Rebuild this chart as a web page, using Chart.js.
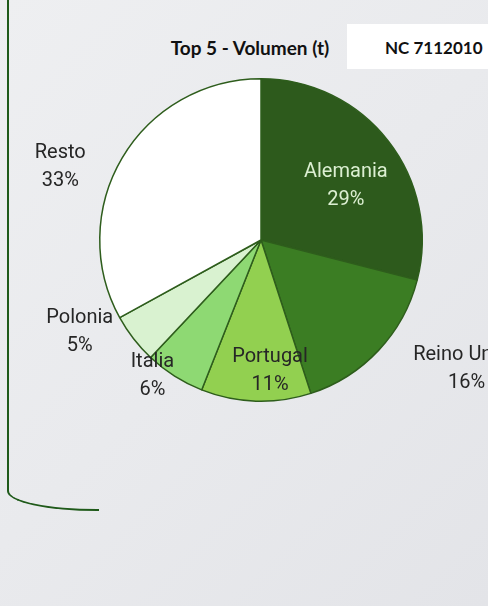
<!DOCTYPE html>
<html>

<head>
    <meta charset="UTF-8">
    <title>Top 5 - Volumen (t)</title>
    <script src="https://cdn.jsdelivr.net/npm/chart.js"></script>
    <style>
        html, body {
            margin: 0;
            padding: 0;
        }

        body {
            width: 488px;
            height: 606px;
            overflow: hidden;
            position: relative;
            background: linear-gradient(135deg, #eeeff1 0%, #e9eaed 50%, #e3e4e8 100%);
            font-family: "Lato", sans-serif;
        }

        .bracket {
            position: absolute;
            left: 7px;
            top: -5px;
            width: 92px;
            height: 516px;
            border-left: 2px solid #1f5a1a;
            border-bottom: 2px solid #1f5a1a;
            border-bottom-left-radius: 90px 20px;
            box-sizing: border-box;
        }

        .title {
            position: absolute;
            left: 130px;
            width: 240px;
            top: 36px;
            text-align: center;
            font-weight: 700;
            font-size: 19px;
            color: #111;
        }

        .code {
            position: absolute;
            left: 347px;
            top: 24px;
            width: 150px;
            height: 45px;
            background: #fff;
            font-weight: 700;
            font-size: 17px;
            color: #111;
            line-height: 47px;
            padding-left: 38px;
            box-sizing: border-box;
        }

        #chart {
            position: absolute;
            left: 0;
            top: 0;
        }
    </style>
</head>

<body>
    <div class="bracket"></div>
    <div class="title">Top 5 - Volumen (t)</div>
    <div class="code">NC 7112010</div>
    <canvas id="chart" width="488" height="606"></canvas>

    <script>
        // datos del grafico
        const paises = ["Alemania", "Reino Unido", "Portugal", "Italia", "Polonia", "Resto"];
        const porcentajes = [29, 16, 11, 6, 5, 33];
        const colores = ["#2d5a1c", "#3b7d23", "#92d050", "#8ed973", "#d9f2d0", "#ffffff"];

        // posicion de etiquetas: [angulo en grados (0 = derecha), radio relativo]
        const posEtiquetas = [[-33.4, 0.63], [31.8, 1.50], [86, 0.80], [129, 1.07], [153.6, 1.255], [200.6, 1.33]];
        const colorEtiqueta = ["#dcefd2", "#262626", "#262626", "#262626", "#262626", "#262626"];

        const etiquetas = {
            id: 'etiquetas',
            afterDatasetsDraw(chart) {
                const ctx = chart.ctx;
                const arc = chart.getDatasetMeta(0).data[0];
                const cx = arc.x, cy = arc.y, r = arc.outerRadius;
                ctx.save();
                ctx.font = '20px Roboto, sans-serif';
                ctx.textAlign = 'center';
                ctx.textBaseline = 'middle';
                paises.forEach(function (p, i) {
                    const a = posEtiquetas[i][0] * Math.PI / 180;
                    const x = cx + Math.cos(a) * r * posEtiquetas[i][1];
                    const y = cy + Math.sin(a) * r * posEtiquetas[i][1] + 2;
                    ctx.fillStyle = colorEtiqueta[i];
                    ctx.fillText(p, x, y - 14);
                    ctx.fillText(porcentajes[i] + '%', x, y + 14);
                });
                ctx.restore();
            }
        };

        new Chart(document.getElementById('chart'), {
            type: 'pie',
            data: {
                labels: paises,
                datasets: [{
                    data: porcentajes,
                    backgroundColor: colores,
                    borderColor: '#2e5d1c',
                    borderWidth: 1.5
                }]
            },
            options: {
                responsive: false,
                animation: false,
                layout: {
                    padding: { left: 99, right: 65, top: 78, bottom: 204 }
                },
                plugins: {
                    legend: { display: false },
                    tooltip: { enabled: false },
                    title: { display: false }
                }
            },
            plugins: [etiquetas]
        });
    </script>

</body>

</html>
